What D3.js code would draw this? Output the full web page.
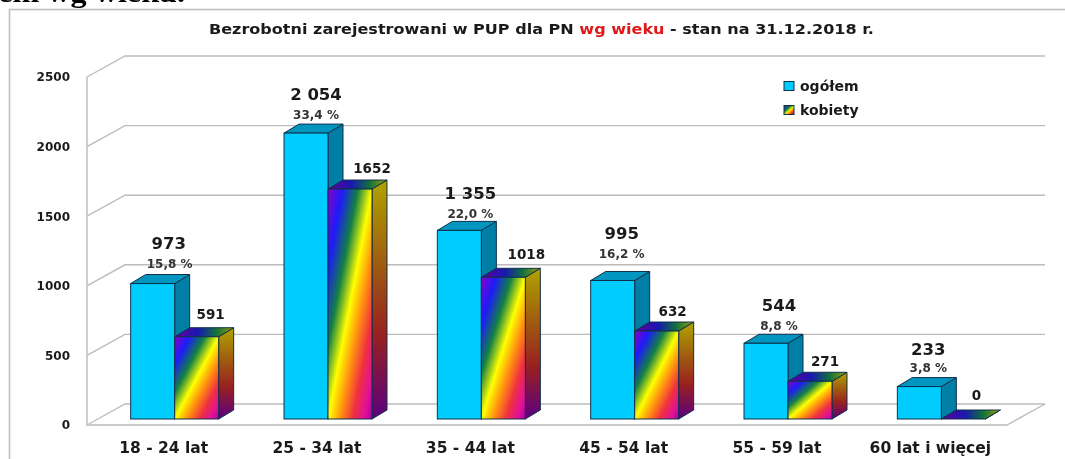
<!DOCTYPE html>
<html><head><meta charset="utf-8">
<script src="https://cdnjs.cloudflare.com/ajax/libs/d3/7.8.5/d3.min.js"></script>
<style>html,body{margin:0;padding:0;background:#fff;overflow:hidden}svg{display:block;filter:blur(0.4px)}text{fill:#1a1a1a}</style>
</head><body><svg id="c" width="1065" height="459"></svg>
<script>
const categories = ["18 - 24 lat","25 - 34 lat","35 - 44 lat","45 - 54 lat","55 - 59 lat","60 lat i więcej"];
const ogolem = [973,2054,1355,995,544,233];
const kobiety = [591,1652,1018,632,271,0];
const totalLabels = ["973","2 054","1 355","995","544","233"];
const shareLabels = ["15,8 %","33,4 %","22,0 %","16,2 %","8,8 %","3,8 %"];
const yTicks = [0,500,1000,1500,2000,2500];
const seriesNames = ["ogółem","kobiety"];

const svg = d3.select("#c");
const F = "'DejaVu Sans',sans-serif";
const y = d3.scaleLinear().domain([0,2500]).range([425,77]);
const x = d3.scaleBand().domain(categories).range([87,1007]);
const sub = d3.scalePoint().domain(seriesNames).range([-44,0]);
const wall = {dx:38, dy:-21};
const barOff = {dx:11, dy:-6};
const depth = {dx:15, dy:-9};
const barW = 44;

// gradients
const defs = svg.append("defs");
function grad(id, x2, y2, stops){
  const g = defs.append("linearGradient").attr("id",id).attr("x1",0).attr("y1",0).attr("x2",x2).attr("y2",y2);
  stops.forEach(([o,c])=>g.append("stop").attr("offset",o).attr("stop-color",c));
}
grad("front",1,1,[[0,"#8a00c8"],[.17,"#1c1cf8"],[.34,"#128044"],[.5,"#ffff00"],[.64,"#ff9010"],[.78,"#f03040"],[.91,"#e0109a"],[1,"#a800a0"]]);
grad("side",0,1,[[0,"#b0a400"],[.35,"#a05c10"],[.65,"#982020"],[1,"#5c0080"]]);
grad("topFace",1,0,[[0,"#64009c"],[.4,"#1818b0"],[.7,"#107040"],[1,"#a0a000"]]);
grad("swatch",1,1,[[0,"#1818c0"],[.35,"#108040"],[.55,"#ffee00"],[.8,"#f04020"],[1,"#900060"]]);

// clipped heading from the surrounding page
svg.append("text").attr("transform","translate(185,2) scale(1.15,1)").attr("text-anchor","end")
  .attr("font-family","'Liberation Serif',serif").attr("font-weight","bold").attr("font-size",28)
  .style("fill","#000").text("ogółem wg wieku.");

// frame
svg.append("path").attr("d","M9.5,459V9.5H1065").attr("fill","none").attr("stroke","#bdbdbd").attr("stroke-width",1.5);

// walls
const gridC = "#bcbcbc";
const g = svg.append("g").attr("fill","none").attr("stroke",gridC).attr("stroke-width",1.4);
yTicks.forEach(t=>{
  const yy=y(t);
  g.append("path").attr("d",`M87,${yy}L${87+wall.dx},${yy+wall.dy}L${1007+wall.dx},${yy+wall.dy}`);
});
g.append("path").attr("d",`M87,${y(2500)}V${y(0)}H1007L${1007+wall.dx},${y(0)+wall.dy}`);

// y tick labels
svg.append("g").selectAll("text").data(yTicks).join("text")
  .attr("x",70).attr("y",d=>y(d)).attr("dy","0.36em").attr("text-anchor","end")
  .attr("font-family",F).attr("font-weight","bold").attr("font-size",12).text(d=>d);

// bars
function bar(parent, xl, val, fills){
  const yb = y(0)+barOff.dy, yt = yb-(y(0)-y(val));
  const xr = xl+barW, s = "#10304a";
  parent.append("path").attr("d",`M${xr},${yb}V${yt}l${depth.dx},${depth.dy}V${yb+depth.dy}Z`)
    .attr("fill",fills[2]).attr("stroke",s);
  parent.append("path").attr("d",`M${xl},${yt}H${xr}l${depth.dx},${depth.dy}H${xl+depth.dx}Z`)
    .attr("fill",fills[1]).attr("stroke",s);
  parent.append("rect").attr("x",xl).attr("y",yt).attr("width",barW).attr("height",yb-yt)
    .attr("fill",fills[0]).attr("stroke",s);
}
const bars = svg.append("g").attr("stroke-width",1);
const center = c => x(c)+x.bandwidth()/2+barOff.dx;
categories.forEach((c,i)=>{
  bar(bars, center(c)+sub("ogółem"), ogolem[i], ["#00ccff","#0096c0","#007fa6"]);
  bar(bars, center(c)+sub("kobiety"), kobiety[i], ["url(#front)","url(#topFace)","url(#side)"]);
});

// value labels: fine nudges
const totalDx=[16,10,11,9,13,9], shareDx=[17,10,11,9,13,9], totalLift=[40,39,37,47,38,38], shareLift=[20,18,17,27,18,19];
const womenDx=[14,22,23,16,15,13], womenLift=[23,21,23,20,20,24];
const barTop = v => y(0)+barOff.dy-(y(0)-y(v));
const lab = svg.append("g").attr("font-family",F).attr("font-weight","bold").attr("text-anchor","middle");
categories.forEach((c,i)=>{
  const cx=center(c);
  lab.append("text").attr("x",cx-22+totalDx[i]).attr("y",barTop(ogolem[i])-totalLift[i]).attr("dy","0.36em").attr("font-size",16.5).text(totalLabels[i]);
  lab.append("text").attr("x",cx-22+shareDx[i]).attr("y",barTop(ogolem[i])-shareLift[i]).attr("dy","0.36em").attr("font-size",12).style("fill","#333").text(shareLabels[i]);
  lab.append("text").attr("x",cx+22+womenDx[i]).attr("y",barTop(kobiety[i])-womenLift[i]).attr("dy","0.36em").attr("font-size",13.5).text(kobiety[i]);
  lab.append("text").attr("x",cx-11).attr("y",447).attr("dy","0.36em").attr("font-size",15.5).text(c);
});

// legend
const leg = svg.append("g");
seriesNames.forEach((n,i)=>{
  const yy=86+i*24;
  leg.append("rect").attr("x",784).attr("y",yy-4.5).attr("width",10).attr("height",9)
    .attr("fill",i?"url(#swatch)":"#00ccff").attr("stroke","#10304a").attr("stroke-width",1);
  leg.append("text").attr("x",800).attr("y",yy).attr("dy","0.36em").attr("font-family",F).attr("font-weight","bold").attr("font-size",14).text(n);
});

// title
const t = svg.append("text").attr("x",209).attr("y",34)
  .attr("font-family",F).attr("font-weight","bold").attr("font-size",13.5)
  .attr("textLength",665).attr("lengthAdjust","spacingAndGlyphs");
t.append("tspan").text("Bezrobotni zarejestrowani w PUP dla PN ");
t.append("tspan").style("fill","#e01818").text("wg wieku");
t.append("tspan").text(" - stan na 31.12.2018 r.");
</script></body></html>
